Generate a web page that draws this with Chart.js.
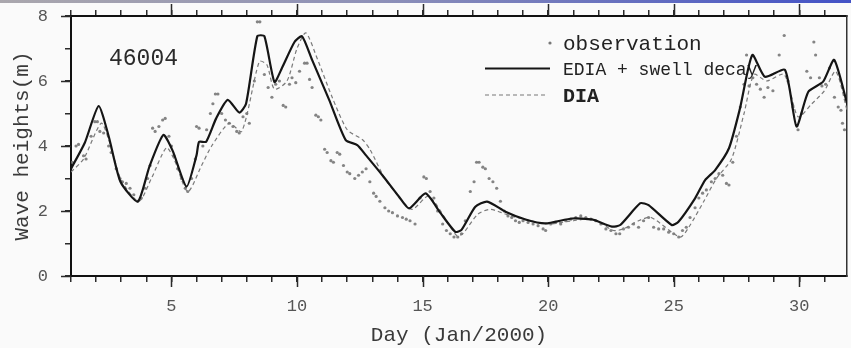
<!DOCTYPE html>
<html>
<head>
<meta charset="utf-8">
<script src="https://cdn.jsdelivr.net/npm/chart.js@4.4.1/dist/chart.umd.min.js"></script>
<style>
  html, body { margin: 0; padding: 0; background: #fafafa; }
  #wrap { position: relative; width: 851px; height: 348px; overflow: hidden; }
  #band { position: absolute; left: 0; top: 0; width: 851px; height: 3px;
          background: linear-gradient(to right, #aaa7ad, #8d90b8 45%, #4352c6); }
</style>
</head>
<body>
<div id="wrap">
  <canvas id="myChart" width="851" height="348"></canvas>
  <div id="band"></div>
</div>
<script>
// Buoy 46004, significant wave height, January 2000

// Observations (day, Hs)
const obsDay = [1.05, 1.2, 1.3, 1.5, 1.6, 1.8, 1.95, 2.05, 2.15, 2.3, 2.5, 2.6, 2.8, 2.95, 3.05, 3.2, 3.35, 3.5, 3.65, 3.8,
  3.95, 4.05, 4.15, 4.25, 4.35, 4.5, 4.65, 4.75, 4.9, 5.0, 5.1, 5.25, 5.4, 5.55, 5.65, 5.8, 5.95, 6.0, 6.1, 6.25,
  6.4, 6.55, 6.65, 6.75, 6.85, 7.0, 7.15, 7.3, 7.45, 7.6, 7.7, 7.85, 8.0, 8.1, 8.3, 8.42, 8.52, 8.7, 8.85, 9.0,
  9.15, 9.3, 9.45, 9.55, 9.7, 9.8, 9.95, 10.1, 10.3, 10.4, 10.5, 10.6, 10.75, 10.85, 10.95, 11.1, 11.2, 11.35, 11.45, 11.6,
  11.7, 11.85, 12.0, 12.1, 12.3, 12.45, 12.6, 12.75, 12.9, 13.05, 13.15, 13.3, 13.5, 13.65, 13.8, 14.0, 14.2, 14.35, 14.5, 14.7,
  14.9, 15.05, 15.15, 15.3, 15.45, 15.6, 15.8, 15.95, 16.1, 16.25, 16.4, 16.55, 16.7, 16.9, 17.05, 17.15, 17.25, 17.4, 17.5, 17.65,
  17.8, 17.95, 18.1, 18.25, 18.4, 18.55, 18.7, 18.85, 19.0, 19.2, 19.4, 19.6, 19.8, 19.9, 20.1, 20.3, 20.5, 20.7, 20.9, 21.1,
  21.3, 21.5, 21.7, 21.9, 22.1, 22.3, 22.5, 22.7, 22.85, 23.0, 23.2, 23.4, 23.6, 23.8, 24.0, 24.2, 24.4, 24.6, 24.8, 25.0,
  25.2, 25.35, 25.5, 25.65, 25.85, 26.0, 26.15, 26.3, 26.5, 26.65, 26.8, 26.95, 27.1, 27.2, 27.35, 27.5, 27.65, 27.8, 27.9, 28.0,
  28.15, 28.3, 28.45, 28.6, 28.75, 28.95, 29.2, 29.4, 29.55, 29.75, 29.95, 30.1, 30.3, 30.45, 30.58, 30.65, 30.8, 30.9, 31.05, 31.2,
  31.4, 31.55, 31.66, 31.72, 31.8];
const obsHs = [3.5, 4.0, 4.05, 3.7, 3.6, 4.3, 4.75, 4.75, 4.45, 4.4, 4.0, 3.8, 3.3, 3.0, 2.9, 2.85, 2.7, 2.5, 2.3, 2.4,
  2.7, 3.0, 3.4, 4.55, 4.45, 4.6, 4.8, 4.85, 4.3, 4.0, 3.7, 3.3, 3.0, 2.7, 2.6, 3.0, 3.6, 4.6, 4.55, 4.0,
  4.5, 5.0, 5.3, 5.6, 5.6, 5.0, 4.8, 4.7, 4.6, 4.45, 4.4, 4.9, 5.0, 4.7, 6.0, 7.82, 7.82, 6.2, 5.8, 5.5,
  5.9, 6.0, 5.25, 5.2, 5.9, 6.1, 5.95, 6.3, 6.55, 6.55, 6.05, 5.8, 4.95, 4.9, 4.8, 3.9, 3.8, 3.55, 3.5, 3.8,
  3.75, 3.4, 3.2, 3.15, 3.0, 3.1, 3.2, 3.3, 2.9, 2.55, 2.45, 2.3, 2.1, 2.0, 1.95, 1.85, 1.8, 1.75, 1.7, 1.6,
  2.4, 3.05, 3.0, 2.6, 2.4, 2.0, 1.6, 1.4, 1.3, 1.2, 1.2, 1.3, 1.7, 2.6, 2.9, 3.5, 3.5, 3.35, 3.3, 3.0,
  2.9, 2.7, 2.3, 2.0, 1.85, 1.8, 1.7, 1.65, 1.7, 1.65, 1.6, 1.55, 1.45, 1.4, 1.6, 1.65, 1.6, 1.7, 1.75, 1.8,
  1.85, 1.8, 1.75, 1.7, 1.6, 1.45, 1.4, 1.3, 1.3, 1.45, 1.5, 1.6, 1.5, 1.7, 1.8, 1.5, 1.45, 1.45, 1.35, 1.3,
  1.2, 1.4, 1.5, 1.8, 2.1, 2.4, 2.55, 2.65, 2.9, 3.0, 3.15, 3.1, 2.85, 2.8, 3.5, 4.3, 5.2, 5.9, 6.8, 5.85,
  6.1, 5.9, 5.75, 5.5, 5.8, 5.7, 6.8, 7.4, 6.0, 5.2, 4.5, 5.0, 6.3, 6.1, 7.2, 6.8, 6.1, 5.85, 5.9, 6.4,
  5.5, 5.2, 5.1, 4.7, 4.5];

// Model run: EDIA + swell decay
const ediaDay = [1.0, 1.55, 2.1, 2.5, 2.97, 3.66, 4.12, 4.68, 5.05, 5.6, 6.0, 6.1, 6.38, 6.78, 7.24, 7.7, 7.97, 8.42, 8.7, 9.1,
  9.4, 9.9, 10.2, 10.6, 11.28, 11.94, 12.4, 12.74, 13.4, 14.06, 14.46, 15.12, 15.7, 16.3, 16.55, 17.1, 17.57, 18.3, 19.1, 19.89,
  20.95, 21.74, 22.54, 22.87, 23.67, 24.0, 24.92, 25.19, 25.85, 26.25, 26.65, 27.2, 27.64, 28.13, 28.63, 29.43, 29.89, 30.36, 30.95, 31.39,
  31.92];
const ediaHs = [3.3, 4.1, 5.23, 4.3, 2.9, 2.29, 3.36, 4.34, 3.85, 2.75, 3.72, 4.13, 4.13, 4.85, 5.42, 5.03, 5.3, 7.38, 7.38, 5.97,
  6.4, 7.2, 7.38, 6.65, 5.42, 4.18, 4.03, 3.72, 3.1, 2.44, 2.08, 2.54, 1.95, 1.36, 1.42, 2.13, 2.29, 1.98, 1.74, 1.62,
  1.77, 1.74, 1.52, 1.57, 2.24, 2.18, 1.57, 1.67, 2.39, 2.95, 3.26, 3.93, 5.16, 6.8, 6.13, 6.34, 4.6, 5.67, 5.98, 6.65,
  5.26];

// Model run: DIA
const diaDay = [1.0, 1.5, 2.2, 2.5, 3.0, 3.7, 4.2, 4.8, 5.1, 5.65, 6.2, 6.6, 7.3, 7.8, 8.5, 8.8, 9.1, 9.6, 10.0, 10.35,
  10.8, 11.4, 12.0, 12.6, 12.9, 13.5, 14.2, 14.6, 15.25, 16.35, 16.6, 17.2, 17.7, 18.5, 19.3, 20.0, 21.0, 21.8, 22.6, 23.0,
  23.6, 24.1, 25.25, 25.6, 26.2, 26.7, 27.3, 27.8, 28.2, 28.7, 29.4, 29.95, 30.5, 31.0, 31.45, 31.9];
const diaHs = [3.2, 3.6, 4.7, 4.2, 2.95, 2.3, 3.0, 3.95, 3.6, 2.6, 3.4, 4.0, 4.7, 4.45, 6.6, 6.5, 5.75, 6.0, 7.0, 7.48,
  6.7, 5.5, 4.5, 4.2, 3.9, 3.0, 2.3, 2.05, 2.45, 1.25, 1.3, 1.9, 2.05, 1.85, 1.7, 1.6, 1.7, 1.75, 1.4, 1.45,
  1.7, 1.8, 1.2, 1.5, 2.3, 3.0, 3.6, 5.0, 6.2, 6.0, 6.2, 4.9, 5.3, 5.7, 6.3, 5.1];

const pairs = (xs, ys) => xs.map((x, i) => ({ x: x, y: ys[i] }));

const MONO = "'Liberation Mono', 'DejaVu Sans Mono', monospace";

// vertical axes: fixed width, and no extra room reserved for the end labels
const fixWidth = (w) => (s) => {
  s.width = w;
  s.paddingTop = 0;
  s.paddingBottom = 0;
};

// longer ticks at labelled values, on bottom, top and left axes
const majorTicks = {
  id: "majorTicks",
  afterDraw(chart) {
    const { ctx, chartArea: a, scales } = chart;
    ctx.save();
    ctx.strokeStyle = "#2a2a2a";
    ctx.lineWidth = 1.5;
    ctx.beginPath();
    for (let d = 5; d <= 30; d += 5) {
      const px = Math.round(scales.x.getPixelForValue(d)) + 0.5;
      ctx.moveTo(px, a.bottom); ctx.lineTo(px, a.bottom + 11);
      ctx.moveTo(px, a.top); ctx.lineTo(px, a.top - 12);
    }
    for (let v = 0; v <= 8; v += 2) {
      const py = Math.round(scales.y.getPixelForValue(v)) + 0.5;
      ctx.moveTo(a.left - 10, py); ctx.lineTo(a.left, py);
    }
    ctx.stroke();
    ctx.restore();
  },
};

// station id and the key, drawn under the curves
const keyBox = {
  id: "keyBox",
  beforeDatasetsDraw(chart) {
    const { ctx } = chart;
    ctx.save();
    ctx.fillStyle = "#2a2a2a";
    ctx.font = "23px " + MONO;
    ctx.textBaseline = "alphabetic";
    ctx.fillText("46004", 109, 65);

    // observation marker
    ctx.fillStyle = "#777";
    ctx.beginPath();
    ctx.arc(550, 43, 1.6, 0, Math.PI * 2);
    ctx.fill();
    // solid sample
    ctx.strokeStyle = "#151515";
    ctx.lineWidth = 2.2;
    ctx.beginPath();
    ctx.moveTo(485, 68.5); ctx.lineTo(550, 68.5);
    ctx.stroke();
    // dashed sample
    ctx.strokeStyle = "#777";
    ctx.lineWidth = 1.2;
    ctx.setLineDash([4, 3]);
    ctx.beginPath();
    ctx.moveTo(485, 95); ctx.lineTo(546, 95);
    ctx.stroke();
    ctx.setLineDash([]);

    ctx.fillStyle = "#222";
    ctx.font = "21px " + MONO;
    ctx.fillText("observation", 563, 50);
    ctx.font = "18px " + MONO;
    ctx.fillText("EDIA + swell decay", 563, 75);
    ctx.font = "bold 20px " + MONO;
    ctx.fillText("DIA", 563, 102);
    ctx.restore();
  },
};

const ctx = document.getElementById("myChart").getContext("2d");
new Chart(ctx, {
  type: "line",
  data: {
    datasets: [
      {
        label: "EDIA + swell decay",
        data: pairs(ediaDay, ediaHs),
        borderColor: "#151515",
        borderWidth: 2.2,
        pointRadius: 0,
        tension: 0.2,
      },
      {
        label: "DIA",
        data: pairs(diaDay, diaHs),
        borderColor: "#7a7a7a",
        borderWidth: 1.2,
        borderDash: [4, 3],
        pointRadius: 0,
        tension: 0.25,
      },
      {
        label: "observation",
        data: pairs(obsDay, obsHs),
        showLine: false,
        pointRadius: 1.6,
        pointBorderWidth: 0,
        pointBackgroundColor: "rgba(110,110,110,0.85)",
      },
    ],
  },
  options: {
    responsive: false,
    animation: false,
    devicePixelRatio: 1,
    layout: { padding: 0 },
    plugins: { legend: { display: false }, tooltip: { enabled: false } },
    scales: {
      x: {
        type: "linear",
        position: "bottom",
        min: 1,
        max: 31.9,
        afterFit: (s) => { s.height = 72; },
        border: { color: "#111", width: 2 },
        grid: { drawOnChartArea: false, tickLength: 6, color: "#2a2a2a", lineWidth: 1.5 },
        ticks: {
          stepSize: 1,
          includeBounds: false,
          autoSkip: false,
          maxRotation: 0,
          padding: 14,
          color: "#555",
          font: { family: MONO, size: 17 },
          callback: (v) => (v % 5 === 0 ? v : ""),
        },
        title: {
          display: true,
          text: "Day (Jan/2000)",
          color: "#3a3a3a",
          font: { family: MONO, size: 21, lineHeight: 1 },
          padding: { top: 0, bottom: 2.5 },
        },
      },
      xt: {
        type: "linear",
        position: "top",
        min: 1,
        max: 31.9,
        afterFit: (s) => { s.height = 16; },
        border: { color: "#111", width: 2 },
        grid: { drawOnChartArea: false, tickLength: 6, color: "#2a2a2a", lineWidth: 1.5 },
        ticks: { stepSize: 1, includeBounds: false, autoSkip: false, callback: () => "" },
      },
      y: {
        type: "linear",
        position: "left",
        min: 0,
        max: 8,
        afterFit: fixWidth(71),
        border: { color: "#111", width: 2 },
        grid: { drawOnChartArea: false, tickLength: 6, color: "#2a2a2a", lineWidth: 1.5 },
        ticks: {
          stepSize: 1,
          autoSkip: false,
          padding: 17,
          color: "#555",
          font: { family: MONO, size: 17 },
          callback: (v) => (v % 2 === 0 ? v : ""),
        },
        title: {
          display: true,
          text: "Wave heights(m)",
          color: "#3a3a3a",
          font: { family: MONO, size: 21, lineHeight: 1 },
          padding: { top: 11.5, bottom: 0 },
        },
      },
      yr: {
        type: "linear",
        position: "right",
        min: 0,
        max: 8,
        afterFit: fixWidth(2),
        border: { color: "#333", width: 1.5 },
        grid: { drawOnChartArea: false, drawTicks: false },
        ticks: { display: false },
      },
    },
  },
  plugins: [keyBox, majorTicks],
});
</script>
</body>
</html>
